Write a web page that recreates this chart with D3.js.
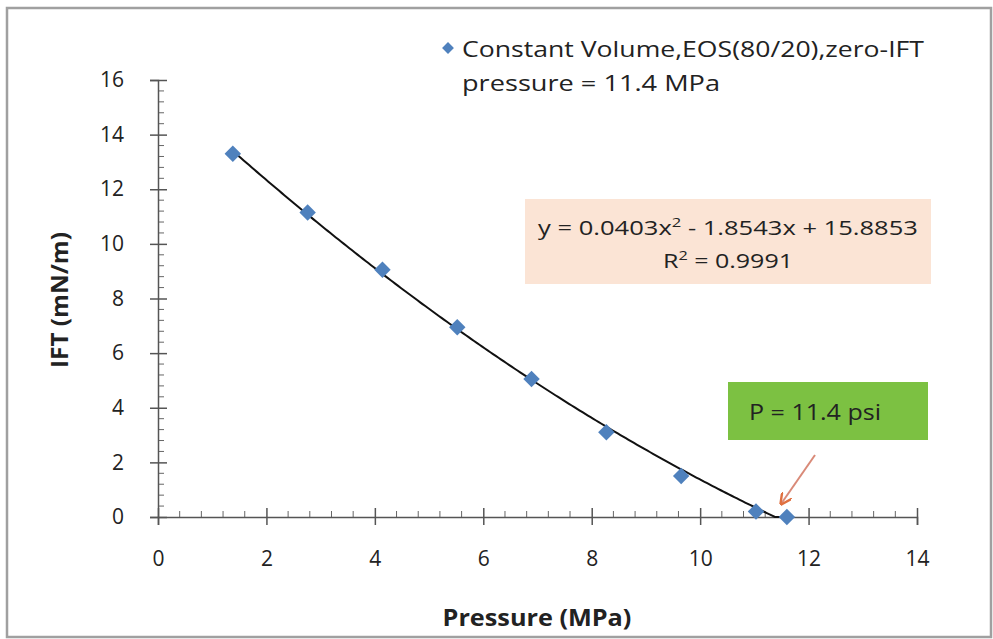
<!DOCTYPE html>
<html>
<head>
<meta charset="utf-8">
<script src="https://cdn.jsdelivr.net/npm/d3@7"></script>
<style>
  body { margin: 0; background: #fff; }
  text { font-family: "Open Sans", "Noto Sans", sans-serif; fill: #222; }
</style>
</head>
<body>
<div id="chart"></div>
<script>
// data
const pressure = [1.38, 2.76, 4.14, 5.52, 6.89, 8.27, 9.65, 11.03, 11.6];
const ift = [13.3, 11.15, 9.05, 6.95, 5.05, 3.1, 1.5, 0.2, 0];
const xTicks = [0, 2, 4, 6, 8, 10, 12, 14];
const yTicks = [0, 2, 4, 6, 8, 10, 12, 14, 16];
const fitCoef = [0.0403, -1.8543, 15.8853];
const seriesName = ["Constant Volume,EOS(80/20),zero-IFT", "pressure = 11.4 MPa"];

const width = 993, height = 639;
const svg = d3.select("#chart").append("svg")
    .attr("width", width)
    .attr("height", height);

// the original picture is stretched sideways, so text is widened to a measured width
function stretch(sel, w, cx) {
  const bw = sel.node().getBBox().width;
  const s = w / bw;
  sel.attr("transform", `translate(${cx},0) scale(${s},1) translate(${-cx},0)`);
}

// outer frame
svg.append("rect")
    .attr("x", 7).attr("y", 8)
    .attr("width", width - 9).attr("height", height - 10)
    .attr("fill", "none")
    .attr("stroke", "#a0a0a0")
    .attr("stroke-width", 2.5);

const x = d3.scaleLinear().domain([0, 14]).range([158, 917]);
const y = d3.scaleLinear().domain([0, 16]).range([517, 80]);

// minor ticks (inside the plot)
const minorX = d3.range(0, 14.01, 0.4).filter(v => Math.abs(v / 2 - Math.round(v / 2)) > 0.01);
const minorY = d3.range(0, 16.01, 0.4).filter(v => Math.abs(v / 2 - Math.round(v / 2)) > 0.01);

svg.append("g").selectAll("line")
    .data(minorX).join("line")
    .attr("x1", d => x(d)).attr("x2", d => x(d))
    .attr("y1", y(0) - 6).attr("y2", y(0))
    .attr("stroke", "#666");
svg.append("g").selectAll("line")
    .data(minorY).join("line")
    .attr("y1", d => y(d)).attr("y2", d => y(d))
    .attr("x1", x(0)).attr("x2", x(0) + 6)
    .attr("stroke", "#666");

// axes
const xAxis = svg.append("g")
    .attr("transform", `translate(0,${y(0)})`)
    .call(d3.axisBottom(x).tickValues(xTicks).tickSize(8).tickPadding(30));
const yAxis = svg.append("g")
    .attr("transform", `translate(${x(0)},0)`)
    .call(d3.axisLeft(y).tickValues(yTicks).tickSize(8).tickPadding(26));

[xAxis, yAxis].forEach(a => {
  a.select(".domain").attr("stroke", "#555").attr("stroke-width", 1.5);
  a.selectAll(".tick line").attr("stroke", "#555").attr("stroke-width", 1.5);
  a.selectAll(".tick text")
      .attr("font-size", 21)
      .attr("font-family", "Open Sans, sans-serif")
      .attr("fill", "#222");
});
// major ticks cross the axis
xAxis.selectAll(".tick line").attr("y1", -9).attr("y2", 8);
yAxis.selectAll(".tick line").attr("x1", 9).attr("x2", -8);
xAxis.selectAll(".tick text").attr("dy", "0.5em");

// axis titles
const xTitle = svg.append("text")
    .attr("x", 537).attr("y", 626)
    .attr("text-anchor", "middle")
    .attr("font-size", 23).attr("font-weight", "bold")
    .text("Pressure (MPa)");
stretch(xTitle, 189, 537);
svg.append("text")
    .attr("transform", "translate(68,300) rotate(-90)")
    .attr("text-anchor", "middle")
    .attr("font-size", 23).attr("font-weight", "bold")
    .attr("textLength", 136).attr("lengthAdjust", "spacingAndGlyphs")
    .text("IFT (mN/m)");

// polynomial trendline
const fit = v => fitCoef[0] * v * v + fitCoef[1] * v + fitCoef[2];
const fitPts = d3.range(pressure[0], d3.max(pressure) + 0.001, 0.05)
    .map(v => [v, Math.max(0, fit(v))]);
svg.append("path")
    .datum(fitPts)
    .attr("fill", "none")
    .attr("stroke", "#111")
    .attr("stroke-width", 2)
    .attr("d", d3.line().x(d => x(d[0])).y(d => y(d[1])));

// points
const diamond = d3.symbol().type(d3.symbolSquare).size(135);
svg.append("g").selectAll("path")
    .data(pressure.map((p, i) => [p, ift[i]]))
    .join("path")
    .attr("transform", d => `translate(${x(d[0])},${y(d[1])}) rotate(45)`)
    .attr("d", diamond)
    .attr("fill", "#4f81bd");

// legend
svg.append("path")
    .attr("transform", "translate(448,48) rotate(45)")
    .attr("d", d3.symbol().type(d3.symbolSquare).size(70))
    .attr("fill", "#4f81bd");
svg.append("text")
    .attr("x", 462).attr("y", 57)
    .attr("font-size", 21)
    .attr("textLength", 462).attr("lengthAdjust", "spacingAndGlyphs")
    .text(seriesName[0]);
svg.append("text")
    .attr("x", 462).attr("y", 91)
    .attr("font-size", 21)
    .attr("textLength", 258).attr("lengthAdjust", "spacingAndGlyphs")
    .text(seriesName[1]);

// equation box
svg.append("rect")
    .attr("x", 525).attr("y", 199)
    .attr("width", 406).attr("height", 85)
    .attr("fill", "#fbe4d5");
const eq = svg.append("text")
    .attr("x", 728).attr("y", 235)
    .attr("text-anchor", "middle")
    .attr("font-size", 20);
eq.append("tspan").text("y = 0.0403x");
eq.append("tspan").attr("dy", -8).attr("font-size", 13).text("2");
eq.append("tspan").attr("dy", 8).text(" - 1.8543x + 15.8853");
stretch(eq, 380, 728);
const r2 = svg.append("text")
    .attr("x", 728).attr("y", 268)
    .attr("text-anchor", "middle")
    .attr("font-size", 20);
r2.append("tspan").text("R");
r2.append("tspan").attr("dy", -8).attr("font-size", 13).text("2");
r2.append("tspan").attr("dy", 8).text(" = 0.9991");
stretch(r2, 130, 728);

// green annotation
svg.append("rect")
    .attr("x", 728).attr("y", 382)
    .attr("width", 200).attr("height", 58)
    .attr("fill", "#7cc142");
svg.append("text")
    .attr("x", 749).attr("y", 420)
    .attr("font-size", 21)
    .attr("fill", "#1d3a10")
    .attr("textLength", 132).attr("lengthAdjust", "spacingAndGlyphs")
    .text("P = 11.4 psi");

// arrow
const defs = svg.append("defs");
defs.append("marker")
    .attr("id", "arr")
    .attr("viewBox", "0 0 10 10")
    .attr("refX", 9).attr("refY", 5)
    .attr("markerWidth", 6).attr("markerHeight", 6)
    .attr("orient", "auto")
    .append("path")
    .attr("d", "M0,0 L10,5 L0,10")
    .attr("fill", "none")
    .attr("stroke", "#e07040")
    .attr("stroke-width", 2);
svg.append("line")
    .attr("x1", 815).attr("y1", 455)
    .attr("x2", 781).attr("y2", 504)
    .attr("stroke", "#d98a78")
    .attr("stroke-width", 2)
    .attr("marker-end", "url(#arr)");
</script>
</body>
</html>
